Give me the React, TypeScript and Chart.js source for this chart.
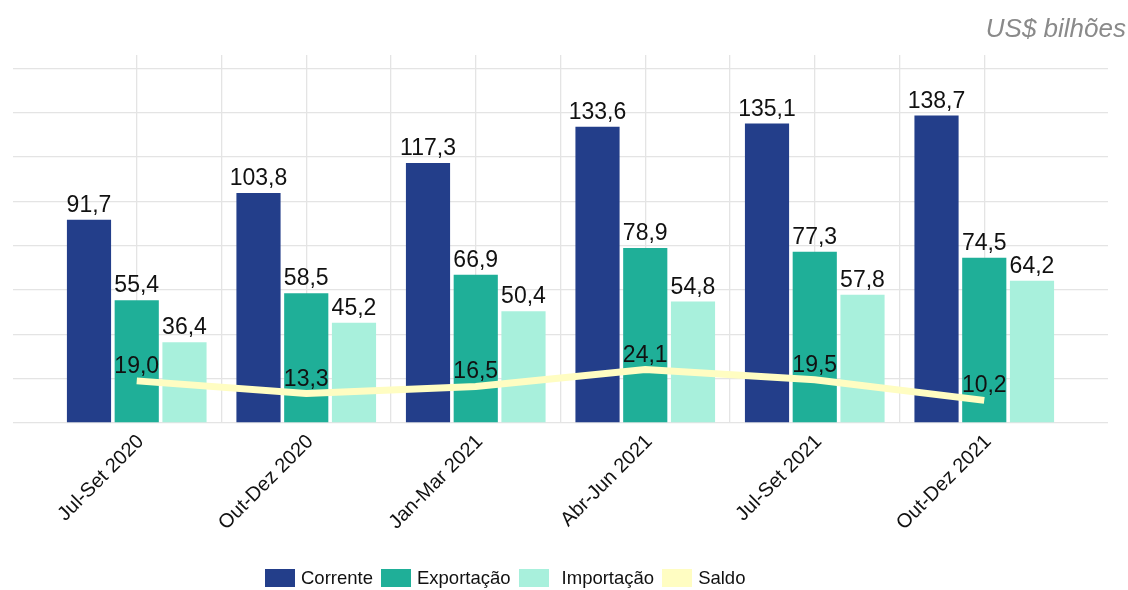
import React, { useEffect, useRef } from "react";
import { Chart, registerables } from "chart.js";

Chart.register(...registerables);

const CATEGORIES = ["Jul-Set 2020", "Out-Dez 2020", "Jan-Mar 2021", "Abr-Jun 2021", "Jul-Set 2021", "Out-Dez 2021"];
const CORRENTE = [91.7, 103.8, 117.3, 133.6, 135.1, 138.7];
const EXPORTACAO = [55.4, 58.5, 66.9, 78.9, 77.3, 74.5];
const IMPORTACAO = [36.4, 45.2, 50.4, 54.8, 57.8, 64.2];
const SALDO = [19.0, 13.3, 16.5, 24.1, 19.5, 10.2];
const Y_GRID = [0, 20, 40, 60, 80, 100, 120, 140, 160];
const UNIT_LABEL = "US$ bilhões";

const SERIES = [
  { label: "Corrente", data: CORRENTE, color: "#233E8A", kind: "bar" },
  { label: "Exportação", data: EXPORTACAO, color: "#1FAF98", kind: "bar" },
  { label: "Importação", data: IMPORTACAO, color: "#A8F0DC", kind: "bar" },
  { label: "Saldo", data: SALDO, color: "#FFFDC2", kind: "line" },
];

const FONT = "'Liberation Sans', Arial, Helvetica, sans-serif";
const GRID_COLOR = "#E4E4E4";

const fmt = (v: number) => v.toFixed(1).replace(".", ",");

const valueLabels = {
  id: "valueLabels",
  afterDatasetsDraw(chart: any) {
    const ctx = chart.ctx;
    ctx.save();
    ctx.font = `23px ${FONT}`;
    ctx.fillStyle = "#111111";
    ctx.textAlign = "center";
    ctx.textBaseline = "alphabetic";
    chart.data.datasets.forEach((ds: any, di: number) => {
      const meta = chart.getDatasetMeta(di);
      meta.data.forEach((el: any, i: number) => {
        const v = ds.data[i].y;
        ctx.fillText(fmt(v), el.x, el.y - 8);
      });
    });
    ctx.restore();
  },
};

export default function App() {
  const ref = useRef<HTMLCanvasElement>(null);

  useEffect(() => {
    if (!ref.current) return;
    Chart.defaults.font.family = FONT;
    const xMin = -0.73;
    const xMax = CATEGORIES.length - 1 + 0.73;
    const chart = new Chart(ref.current, {
      type: "bar",
      data: {
        datasets: SERIES.map((s) =>
          s.kind === "bar"
            ? {
                type: "bar" as const,
                label: s.label,
                data: s.data.map((y, i) => ({ x: i, y })),
                backgroundColor: s.color,
                borderWidth: 0,
                categoryPercentage: 0.845,
                barPercentage: 0.925,
                order: 1,
              }
            : {
                type: "line" as const,
                label: s.label,
                data: s.data.map((y, i) => ({ x: i, y })),
                borderColor: s.color,
                backgroundColor: s.color,
                borderWidth: 7,
                pointRadius: 0,
                tension: 0,
                order: 0,
              }
        ) as any,
      },
      options: {
        responsive: false,
        animation: false,
        layout: { padding: { left: 13, right: 20, top: 55, bottom: 47 } },
        plugins: {
          legend: { display: false },
          tooltip: { enabled: false },
          title: { display: false },
        },
        scales: {
          x: {
            type: "linear",
            min: xMin,
            max: xMax,
            offset: false,
            position: "bottom",
            afterBuildTicks: (axis: any) => {
              axis.ticks = CATEGORIES.map((_, i) => ({ value: i }));
            },
            afterFit: (axis: any) => {
              axis.height = 120;
            },
            ticks: {
              autoSkip: false,
              minRotation: 45,
              maxRotation: 45,
              padding: 7,
              labelOffset: 4,
              color: "#111111",
              font: { size: 20 },
              callback: (v: any) => CATEGORIES[Math.round(Number(v))] ?? "",
            },
            grid: { color: GRID_COLOR, lineWidth: 1.3, drawTicks: false, offset: false },
            border: { display: false },
          },
          xMid: {
            type: "linear",
            min: xMin,
            max: xMax,
            offset: false,
            position: "bottom",
            afterBuildTicks: (axis: any) => {
              axis.ticks = CATEGORIES.slice(1).map((_, i) => ({ value: i + 0.5 }));
            },
            afterFit: (axis: any) => {
              axis.height = 0;
            },
            ticks: { display: false },
            grid: { color: GRID_COLOR, lineWidth: 1.3, drawTicks: false, offset: false },
            border: { display: false },
          },
          y: {
            type: "linear",
            min: 0,
            max: 166,
            afterBuildTicks: (axis: any) => {
              axis.ticks = Y_GRID.map((value) => ({ value }));
            },
            afterFit: (axis: any) => {
              axis.width = 0;
            },
            ticks: { display: false },
            grid: { color: GRID_COLOR, lineWidth: 1.3, drawTicks: false },
            border: { display: false },
          },
        } as any,
      },
      plugins: [valueLabels],
    });
    return () => chart.destroy();
  }, []);

  return (
    <div
      style={{
        position: "fixed",
        left: 0,
        top: 0,
        width: 1128,
        height: 590,
        background: "#ffffff",
        fontFamily: FONT,
        overflow: "hidden",
      }}
    >
      <canvas ref={ref} width={1128} height={590} style={{ position: "absolute", left: 0, top: 0 }} />
      <div
        style={{
          position: "absolute",
          right: 2,
          top: 15,
          fontSize: 26,
          lineHeight: "26px",
          fontStyle: "italic",
          color: "#8A8A8A",
        }}
      >
        {UNIT_LABEL}
      </div>
      <div
        style={{
          position: "absolute",
          left: 265,
          top: 566,
          display: "flex",
          alignItems: "center",
          height: 24,
          fontSize: 18.5,
          color: "#111111",
        }}
      >
        {SERIES.map((s, i) => (
          <div key={s.label} style={{ display: "flex", alignItems: "center", marginRight: 8 }}>
            <span style={{ display: "inline-block", width: 30, height: 18, background: s.color, marginRight: i === 2 ? 13 : 6 }} />
            <span style={{ lineHeight: "24px" }}>{s.label}</span>
          </div>
        ))}
      </div>
    </div>
  );
}
